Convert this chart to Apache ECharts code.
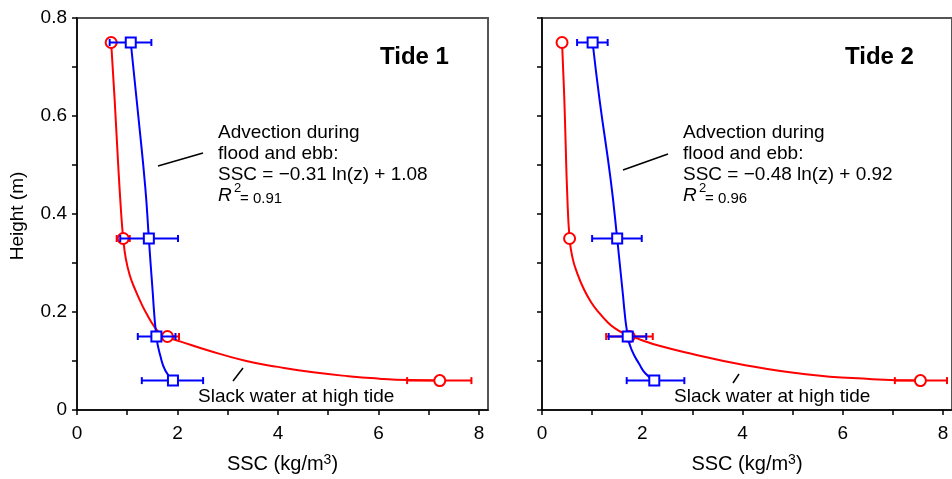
<!DOCTYPE html>
<html><head><meta charset="utf-8">
<script src="https://cdn.jsdelivr.net/npm/echarts@6/dist/echarts.min.js"></script>
<style>html,body{margin:0;padding:0;background:#fff}#c{width:952px;height:479px}</style>
</head><body><div id="c"></div>
<script>
// ---------- data ----------
const heights = [0.75, 0.35, 0.15, 0.06];
const xTicks = [0, 1, 2, 3, 4, 5, 6, 7, 8];
const xLabels = [0, 2, 4, 6, 8];
const yTicks = [0, 0.1, 0.2, 0.3, 0.4, 0.5, 0.6, 0.7, 0.8];
const yLabels = [0, 0.2, 0.4, 0.6, 0.8];

// Tide 1 — slack water (red circles) and advection (blue squares)
const t1RedSSC  = [0.68, 0.92, 1.80, 7.22];
const t1RedLow  = [0.68, 0.79, 1.57, 6.57];
const t1RedHigh = [0.68, 1.05, 2.03, 7.85];
const t1BlueSSC  = [1.07, 1.43, 1.58, 1.91];
const t1BlueLow  = [0.65, 0.86, 1.21, 1.29];
const t1BlueHigh = [1.48, 2.01, 1.96, 2.51];
const t1RedCurveX = [0.68, 0.75, 0.82, 0.88, 0.92, 0.97, 1.05, 1.16, 1.30, 1.42, 1.52, 1.62, 1.75, 1.90, 2.05, 2.60, 3.37, 4.00, 4.70, 5.40, 6.02, 6.60, 7.22];
const t1RedCurveY = [0.75, 0.632, 0.50, 0.40, 0.35, 0.31, 0.275, 0.245, 0.213, 0.19, 0.173, 0.160, 0.151, 0.145, 0.140, 0.122, 0.100, 0.088, 0.077, 0.069, 0.064, 0.061, 0.060];
const t1BlueCurveX = [1.07, 1.22, 1.36, 1.43, 1.50, 1.58, 1.66, 1.76, 1.91];
const t1BlueCurveY = [0.75, 0.60, 0.453, 0.35, 0.25, 0.15, 0.11, 0.08, 0.06];

// Tide 2
const t2RedSSC  = [0.40, 0.55, 1.74, 7.55];
const t2RedLow  = [0.40, 0.55, 1.28, 7.04];
const t2RedHigh = [0.40, 0.55, 2.21, 8.08];
const t2BlueSSC  = [1.01, 1.50, 1.71, 2.24];
const t2BlueLow  = [0.70, 1.00, 1.33, 1.69];
const t2BlueHigh = [1.31, 1.99, 2.08, 2.84];
const t2RedCurveX = [0.40, 0.44, 0.47, 0.50, 0.55, 0.61, 0.70, 0.82, 0.98, 1.15, 1.30, 1.45, 1.62, 1.80, 1.98, 2.34, 2.94, 3.93, 5.26, 6.59, 7.55];
const t2RedCurveY = [0.75, 0.65, 0.55, 0.45, 0.35, 0.31, 0.28, 0.25, 0.22, 0.197, 0.18, 0.167, 0.157, 0.150, 0.143, 0.131, 0.116, 0.094, 0.073, 0.063, 0.060];
const t2BlueCurveX = [1.01, 1.15, 1.37, 1.50, 1.60, 1.71, 1.80, 1.94, 2.06, 2.24];
const t2BlueCurveY = [0.75, 0.632, 0.47, 0.35, 0.25, 0.15, 0.12, 0.094, 0.075, 0.06];

const panelTitles = ['Tide 1', 'Tide 2'];
const eqTexts = ['SSC = \u22120.31 ln(z) + 1.08', 'SSC = \u22120.48 ln(z) + 0.92'];
const r2Texts = ['= 0.91', '= 0.96'];

// ---------- chart ----------
const FF = '"Liberation Sans", Arial, Helvetica, sans-serif';
const RED = '#ff0000', BLUE = '#0000ff';
const zip = (a, b) => a.map((v, i) => [v, b[i]]);
const zip3 = (a, b, c) => a.map((v, i) => [v, b[i], c[i]]);

function errRender(color) {
  return function (params, api) {
    const lo = api.value(0), hi = api.value(1), h = api.value(2);
    if (hi - lo <= 0) return { type: 'group', children: [] };
    const p1 = api.coord([lo, h]), p2 = api.coord([hi, h]);
    const c = 3.5, st = { stroke: color, lineWidth: 2 };
    return { type: 'group', children: [
      { type: 'line', shape: { x1: p1[0], y1: p1[1], x2: p2[0], y2: p2[1] }, style: st },
      { type: 'line', shape: { x1: p1[0], y1: p1[1] - c, x2: p1[0], y2: p1[1] + c }, style: st },
      { type: 'line', shape: { x1: p2[0], y1: p2[1] - c, x2: p2[0], y2: p2[1] + c }, style: st }
    ]};
  };
}

function panelSeries(i, d) {
  const base = { xAxisIndex: i, yAxisIndex: i };
  return [
    Object.assign({ type: 'line', data: zip(d.rcx, d.rcy), smooth: 0.5, showSymbol: false,
      lineStyle: { color: RED, width: 2 }, z: 2 }, base),
    Object.assign({ type: 'custom', data: zip3(d.rlo, d.rhi, heights), renderItem: errRender(RED),
      encode: { x: [0, 1], y: 2 }, z: 3 }, base),
    Object.assign({ type: 'scatter', data: zip(d.r, heights), symbol: 'circle', symbolSize: 11,
      itemStyle: { color: '#fff', borderColor: RED, borderWidth: 2, opacity: 1 }, z: 4 }, base),
    Object.assign({ type: 'line', data: zip(d.bcx, d.bcy), smooth: 0.5, showSymbol: false,
      lineStyle: { color: BLUE, width: 2 }, z: 5 }, base),
    Object.assign({ type: 'custom', data: zip3(d.blo, d.bhi, heights), renderItem: errRender(BLUE),
      encode: { x: [0, 1], y: 2 }, z: 6 }, base),
    Object.assign({ type: 'scatter', data: zip(d.b, heights), symbol: 'rect', symbolSize: 10,
      itemStyle: { color: '#fff', borderColor: BLUE, borderWidth: 2, opacity: 1 }, z: 7 }, base)
  ];
}

const lefts = [77, 542];
const grids = lefts.map(l => ({ left: l, top: 18, width: 411, height: 393, show: true,
  borderColor: '#555', borderWidth: 2, backgroundColor: 'transparent' }));

const xAxes = [0, 1].map(i => ({
  type: 'value', gridIndex: i, min: 0, max: 8.18,
  axisLine: { show: true, onZero: false, lineStyle: { color: '#000', width: 1.5 } },
  axisTick: { show: true, inside: false, length: 5, customValues: xTicks, lineStyle: { color: '#000', width: 1.5 } },
  axisLabel: { show: true, customValues: xLabels, fontSize: 19, color: '#000', fontFamily: FF, margin: 14 },
  splitLine: { show: false },
  name: '{a|SSC (kg/m}{s|3}{a|)}', nameLocation: 'middle', nameGap: 43,
  nameTextStyle: { color: '#000', fontFamily: FF,
    rich: { a: { fontSize: 20, fontFamily: FF, color: '#000', lineHeight: 22 },
            s: { fontSize: 14, fontFamily: FF, color: '#000', lineHeight: 22, verticalAlign: 'top' } } }
}));
const yAxes = [0, 1].map(i => ({
  type: 'value', gridIndex: i, min: 0, max: 0.8,
  axisLine: { show: true, onZero: false, lineStyle: { color: '#000', width: 1.5 } },
  axisTick: { show: true, inside: false, length: 5, customValues: yTicks, lineStyle: { color: '#000', width: 1.5 } },
  axisLabel: { show: i === 0, customValues: yLabels, fontSize: 19, color: '#000', fontFamily: FF, margin: 10,
    formatter: v => (v === 0 ? '0' : String(v)) },
  splitLine: { show: false }
}));

const series = [].concat(
  panelSeries(0, { r: t1RedSSC, rlo: t1RedLow, rhi: t1RedHigh, b: t1BlueSSC, blo: t1BlueLow, bhi: t1BlueHigh,
    rcx: t1RedCurveX, rcy: t1RedCurveY, bcx: t1BlueCurveX, bcy: t1BlueCurveY }),
  panelSeries(1, { r: t2RedSSC, rlo: t2RedLow, rhi: t2RedHigh, b: t2BlueSSC, blo: t2BlueLow, bhi: t2BlueHigh,
    rcx: t2RedCurveX, rcy: t2RedCurveY, bcx: t2BlueCurveX, bcy: t2BlueCurveY })
);

function txt(x, y, text, size, opts) {
  opts = opts || {};
  const el = { type: 'text', x: x, y: y, z: 100, silent: true,
    style: { text: text, fill: '#000',
      font: (opts.italic ? 'italic ' : '') + (opts.weight ? opts.weight + ' ' : '') + size + 'px ' + FF,
      textAlign: opts.align || 'left', textVerticalAlign: 'middle' } };
  if (opts.rot) el.rotation = opts.rot;
  return el;
}
function seg(x1, y1, x2, y2) {
  return { type: 'line', z: 100, silent: true, shape: { x1, y1, x2, y2 }, style: { stroke: '#000', lineWidth: 1.5 } };
}

const graphics = [];
const textLeft = [218, 683];
const titleX = [380, 845];
const slackX = [198, 674];
const leaders = [[158, 166, 203, 153], [623, 170, 668, 154]];
const slackLeaders = [[233, 381, 243, 368], [733, 383, 739, 374]];
[0, 1].forEach(i => {
  const tx = textLeft[i];
  graphics.push(txt(titleX[i], 57, panelTitles[i], 24, { weight: 'bold' }));
  graphics.push(txt(tx, 133, 'Advection during', 19));
  graphics.push(txt(tx, 154, 'flood and ebb:', 19));
  graphics.push(txt(tx, 175, eqTexts[i], 19));
  graphics.push(txt(tx, 196, 'R', 19, { italic: true }));
  graphics.push(txt(tx + 16, 188, '2', 13));
  graphics.push(txt(tx + 22, 199, r2Texts[i], 15));
  graphics.push(seg.apply(null, leaders[i]));
  graphics.push(txt(slackX[i], 397, 'Slack water at high tide', 19));
  graphics.push(seg.apply(null, slackLeaders[i]));
});
graphics.push(txt(18, 216, 'Height (m)', 19, { align: 'center', rot: Math.PI / 2 }));

const chart = echarts.init(document.getElementById('c'), null, { renderer: 'canvas' });
chart.setOption({
  animation: false,
  backgroundColor: '#fff',
  textStyle: { fontFamily: FF },
  grid: grids,
  xAxis: xAxes,
  yAxis: yAxes,
  series: series,
  graphic: graphics
});
</script>
</body></html>
